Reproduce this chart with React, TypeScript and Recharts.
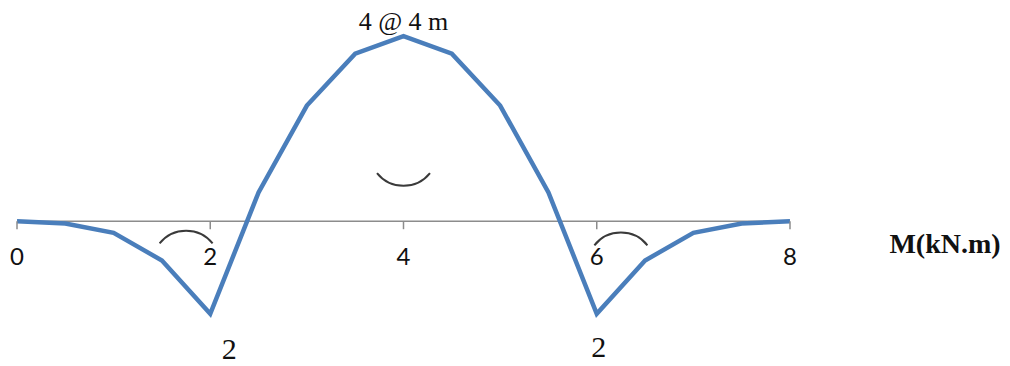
import { LineChart, Line, XAxis, YAxis, ReferenceLine, ReferenceDot } from "recharts";

const positions = [0, 0.5, 1, 1.5, 2, 2.5, 3, 3.5, 4, 4.5, 5, 5.5, 6, 6.5, 7, 7.5, 8];
const moments = [0, -0.05, -0.25, -0.85, -2, 0.62, 2.5, 3.62, 4, 3.62, 2.5, 0.62, -2, -0.85, -0.25, -0.05, 0];
const xTicks = [0, 2, 4, 6, 8];

// curvature marks: hogging (frown) over the supports, sagging (smile) at mid-span
const curvX = [1.75, 4, 6.25];
const curvY = [-0.48, 1.04, -0.52];
const curvKind = ["hog", "sag", "hog"];

const data = positions.map((x, i) => ({ x, m: moments[i] }));

const BLUE = "#4A7EBB";
const SERIF = "'Liberation Serif', 'Times New Roman', serif";
const SANS = "Lato, 'Liberation Sans', sans-serif";

function tickShape(label: number) {
  return (p: any) => (
    <g>
      <line x1={p.cx} y1={p.cy} x2={p.cx} y2={p.cy + 8} stroke="#8c8c8c" strokeWidth={1.5} />
      <text x={p.cx} y={p.cy + 44} textAnchor="middle" fontFamily={SANS} fontSize={24} fill="#111">
        {label}
      </text>
    </g>
  );
}

function arcShape(kind: string) {
  return (p: any) => {
    const half = 26.5;
    const r = 34;
    const sweep = kind === "hog" ? 1 : 0;
    return (
      <path
        d={`M ${p.cx - half} ${p.cy} A ${r} ${r} 0 0 ${sweep} ${p.cx + half} ${p.cy}`}
        fill="none"
        stroke="#3a3a3a"
        strokeWidth={2}
      />
    );
  };
}

function textShape(text: string, dx: number, dy: number, size: number, bold = false, anchor = "middle") {
  return (p: any) => (
    <text
      x={p.cx + dx}
      y={p.cy + dy}
      textAnchor={anchor}
      fontFamily={SERIF}
      fontSize={size}
      fontWeight={bold ? "bold" : "normal"}
      fill="#111"
      style={{ whiteSpace: "pre" }}
    >
      {text}
    </text>
  );
}

export default function App() {
  return (
    <div style={{ position: "absolute", left: 0, top: 0, width: 1010, height: 366, background: "#fff" }}>
      <LineChart width={1010} height={366} data={data} margin={{ top: 13, right: 220, bottom: 6, left: 17 }}>
        <XAxis type="number" dataKey="x" domain={[0, 8]} ticks={xTicks} hide />
        <YAxis type="number" domain={[-3, 4.5]} hide />
        <ReferenceLine y={0} stroke="#8c8c8c" strokeWidth={1.5} />
        {xTicks.map((t) => (
          <ReferenceDot key={"t" + t} x={t} y={0} r={0} shape={tickShape(t)} />
        ))}
        {curvX.map((cx, i) => (
          <ReferenceDot key={"c" + i} x={cx} y={curvY[i]} r={0} shape={arcShape(curvKind[i])} />
        ))}
        <Line
          type="linear"
          dataKey="m"
          stroke={BLUE}
          strokeWidth={4.5}
          dot={false}
          isAnimationActive={false}
        />
        <ReferenceDot x={4} y={4} r={0} shape={textShape("4 @ 4 m", 0, -6, 26)} />
        <ReferenceDot x={2} y={-2} r={0} shape={textShape("2", 19, 45, 30)} />
        <ReferenceDot x={6} y={-2} r={0} shape={textShape("2", 2, 43, 30)} />
        <ReferenceDot x={8} y={0} r={0} shape={textShape("M(kN.m)", 155, 32, 28, true)} />
      </LineChart>
    </div>
  );
}
